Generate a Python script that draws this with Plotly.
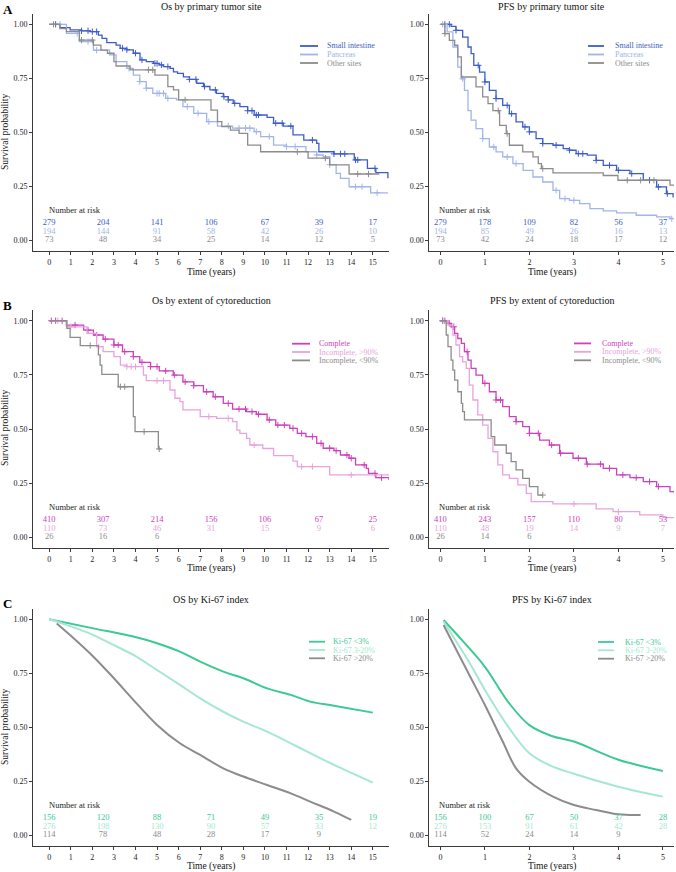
import numpy as np
import plotly.graph_objects as go

W, H = 676, 872
FONT = "Liberation Serif, Times New Roman, serif"

# ---------------- colours ----------------
C_SI, C_PANC, C_OTH = "#3d5dc6", "#a2b4ea", "#8c8c8c"
C_COMP, C_INC90, C_INCLT = "#cc42bb", "#e8a3dd", "#8c8c8c"
C_KLOW, C_KMID, C_KHIGH = "#3cc994", "#a5e8d0", "#8c8c8c"

# ---------------- A: primary tumor site ----------------
site_names = ["Small intestine", "Pancreas", "Other sites"]

os_si_t = [0, 0.5, 0.97, 1.5, 1.9, 2.28, 2.45, 2.67, 3.1, 3.29, 3.6, 3.9, 4.21, 4.5, 4.83, 5.1, 5.29, 5.6, 5.76, 5.95,
           6.22, 6.5, 6.84, 7.15, 7.45, 7.75, 8.07, 8.3, 8.53, 8.84, 9.2, 9.5, 10.1, 10.4, 10.85, 11.3, 11.8, 12.4,
           12.5, 13.2, 14.14, 14.75, 15.14, 15.7]
os_si_s = [1.0, 0.985, 0.974, 0.97, 0.966, 0.95, 0.935, 0.915, 0.904, 0.889, 0.882, 0.866, 0.835, 0.827, 0.819,
           0.812, 0.804, 0.796, 0.78, 0.773, 0.757, 0.745, 0.727, 0.712, 0.696, 0.68, 0.665, 0.65, 0.634, 0.619, 0.6,
           0.58, 0.569, 0.542, 0.529, 0.488, 0.464, 0.449, 0.41, 0.40, 0.372, 0.333, 0.313, 0.287]
os_si_c = [0.3, 1.5, 1.8, 2.0, 2.2, 3.4, 3.6, 4.0, 4.3, 4.9, 5.0, 5.2, 5.5, 6.5, 6.8, 7.2, 7.7, 8.1, 8.3, 8.6, 9.2,
           9.4, 9.6, 9.7, 10.5, 10.8, 11.2, 12.2, 13.2, 13.5, 13.7, 14.2, 14.3, 15.1]

os_pa_t = [0, 0.8, 1.4, 2.05, 2.8, 3.1, 3.6, 3.9, 4.2, 4.5, 4.8, 5.4, 5.9, 6.2, 6.7, 7.3, 7.8, 8.5, 9.5, 9.8,
           10.4, 11.0, 11.9, 12.4, 12.7, 13.0, 13.3, 13.5, 13.9, 14.9, 15.7]
os_pa_s = [1.0, 0.958, 0.92, 0.88, 0.858, 0.827, 0.796, 0.765, 0.735, 0.704, 0.68, 0.657, 0.65, 0.619, 0.588, 0.549,
           0.529, 0.519, 0.503, 0.48, 0.441, 0.434, 0.41, 0.395, 0.387, 0.35, 0.31, 0.287, 0.248, 0.22, 0.22]
os_pa_c = [0.5, 1.3, 1.8, 2.2, 3.7, 4.2, 4.5, 5.0, 5.1, 5.3, 5.5, 6.4, 6.9, 7.4, 8.3, 8.8, 9.1, 9.3, 9.6, 10.2,
           11.0, 11.4, 12.4, 13.0, 14.2, 14.5, 15.2]

os_ot_t = [0, 0.5, 0.8, 1.4, 2.05, 2.4, 2.7, 3.0, 3.1, 3.75, 4.9, 5.5, 5.76, 6.0, 7.5, 7.8, 8.0, 8.4, 8.8, 9.2,
           9.8, 12.0, 13.0, 13.9, 15.3]
os_ot_s = [1.0, 0.98, 0.966, 0.927, 0.904, 0.88, 0.866, 0.827, 0.807, 0.789, 0.765, 0.711, 0.696, 0.65, 0.603, 0.549,
           0.526, 0.51, 0.495, 0.441, 0.41, 0.38, 0.349, 0.307, 0.307]
os_ot_c = [0.2, 1.5, 2.0, 4.6, 4.8, 6.3, 11.5, 12.8, 14.3, 14.8]

pfs_si_t = [0, 0.24, 0.35, 0.5, 0.62, 0.69, 0.75, 0.88, 1.0, 1.1, 1.25, 1.4, 1.55, 1.7, 1.85, 2.0, 2.15, 2.3, 2.53,
            2.76, 2.9, 3.05, 3.3, 3.5, 3.66, 3.96, 4.26, 4.56, 4.86, 5.08, 5.23]
pfs_si_s = [1.0, 0.99, 0.972, 0.941, 0.895, 0.864, 0.81, 0.779, 0.733, 0.694, 0.656, 0.625, 0.586, 0.548, 0.525,
            0.502, 0.471, 0.448, 0.44, 0.424, 0.417, 0.401, 0.394, 0.37, 0.347, 0.324, 0.309, 0.278, 0.247, 0.216, 0.198]
pfs_si_c = [0.1, 0.2, 0.35, 0.85, 1.0, 1.25, 1.5, 1.6, 1.9, 2.0, 2.3, 2.6, 2.9, 3.1, 3.2, 3.5, 3.8, 4.0, 4.3, 4.7,
            4.9, 5.1]

pfs_pa_t = [0, 0.15, 0.28, 0.39, 0.47, 0.54, 0.62, 0.69, 0.8, 0.95, 1.1, 1.25, 1.4, 1.63, 1.86, 2.08, 2.3, 2.53,
            2.68, 2.9, 3.13, 3.36, 3.66, 3.96, 4.4, 4.86, 5.16, 5.25]
pfs_pa_s = [1.0, 0.965, 0.895, 0.802, 0.748, 0.694, 0.60, 0.556, 0.517, 0.471, 0.432, 0.409, 0.386, 0.355, 0.324,
            0.293, 0.27, 0.231, 0.193, 0.185, 0.17, 0.147, 0.136, 0.127, 0.116, 0.108, 0.10, 0.10]
pfs_pa_c = [0.05, 0.5, 0.95, 1.2, 1.5, 1.7, 2.6, 2.8, 3.0, 5.2]

pfs_ot_t = [0, 0.1, 0.2, 0.32, 0.39, 0.47, 0.8, 0.95, 1.07, 1.18, 1.33, 1.48, 1.55, 1.85, 2.08, 2.2, 2.27, 2.53,
            3.66, 3.99, 5.16, 5.25]
pfs_ot_s = [1.0, 0.957, 0.926, 0.903, 0.849, 0.756, 0.71, 0.664, 0.633, 0.60, 0.532, 0.494, 0.44, 0.409, 0.386,
            0.355, 0.332, 0.312, 0.30, 0.278, 0.255, 0.255]
pfs_ot_c = [0.1, 1.3, 1.5, 2.3, 4.2, 4.5, 4.8]

# ---------------- B: extent of cytoreduction ----------------
cyto_names = ["Complete", "Incomplete, >90%", "Incomplete, <90%"]

os_co_t = [0, 0.8, 1.6, 2.05, 2.5, 3.0, 3.4, 3.9, 4.2, 4.7, 5.1, 5.75, 6.2, 6.7, 7.15, 7.6, 8.07, 8.5, 9.15, 9.6,
           10.1, 10.5, 11.15, 11.5, 11.9, 12.4, 12.7, 13.2, 13.5, 13.9, 14.2, 14.7, 14.8, 15.14, 15.75]
os_co_s = [1.0, 0.98, 0.957, 0.934, 0.915, 0.888, 0.857, 0.834, 0.808, 0.788, 0.768, 0.749, 0.718, 0.70, 0.672, 0.649,
           0.618, 0.592, 0.58, 0.568, 0.542, 0.518, 0.503, 0.48, 0.465, 0.434, 0.411, 0.40, 0.38, 0.365, 0.334, 0.318,
           0.295, 0.275, 0.265]
os_co_c = [0.1, 0.3, 0.6, 1.2, 1.8, 2.2, 2.6, 3.0, 3.2, 3.5, 3.9, 4.3, 4.7, 5.0, 5.4, 5.8, 6.3, 6.7, 7.3, 7.7, 8.3,
           8.8, 9.1, 9.4, 9.7, 10.2, 10.6, 10.9, 11.3, 11.7, 12.2, 12.6, 13.0, 13.3, 13.8, 14.0, 14.6, 15.1, 15.4]

os_i9_t = [0, 0.8, 1.75, 2.2, 2.5, 3.0, 3.3, 3.6, 4.37, 4.5, 5.6, 5.83, 6.06, 6.2, 7.0, 7.76, 8.5, 8.7, 8.84, 9.15,
           9.3, 9.9, 10.4, 11.3, 11.5, 13.0, 15.75]
os_i9_s = [1.0, 0.972, 0.942, 0.88, 0.857, 0.834, 0.795, 0.788, 0.749, 0.723, 0.68, 0.642, 0.626, 0.588, 0.557, 0.549,
           0.534, 0.495, 0.48, 0.457, 0.426, 0.41, 0.377, 0.352, 0.326, 0.288, 0.288]
os_i9_c = [0.4, 1.0, 2.3, 3.6, 3.8, 4.0, 5.0, 5.3, 7.4, 8.3, 9.5, 11.7, 12.2, 14.0]

os_il_t = [0, 0.82, 0.97, 1.44, 2.28, 2.36, 2.44, 3.2, 3.9, 3.98, 5.06, 5.2]
os_il_s = [1.0, 0.965, 0.923, 0.885, 0.842, 0.795, 0.752, 0.695, 0.557, 0.488, 0.408, 0.408]
os_il_c = [1.9, 3.3, 3.5, 4.4, 5.1]

pfs_co_t = [0, 0.17, 0.24, 0.32, 0.39, 0.47, 0.54, 0.62, 0.69, 0.8, 0.95, 1.1, 1.25, 1.4, 1.55, 1.7, 1.85, 2.0, 2.23,
            2.45, 2.68, 2.98, 3.28, 3.66, 3.96, 4.26, 4.56, 4.86, 5.16, 5.26]
pfs_co_s = [1.0, 0.988, 0.972, 0.942, 0.918, 0.895, 0.857, 0.818, 0.78, 0.749, 0.711, 0.672, 0.634, 0.603, 0.557,
            0.534, 0.511, 0.48, 0.449, 0.426, 0.388, 0.365, 0.338, 0.318, 0.288, 0.275, 0.257, 0.234, 0.211, 0.2]
pfs_co_c = [0.05, 0.1, 0.2, 0.3, 0.6, 1.0, 1.25, 1.35, 1.7, 2.0, 2.2, 2.5, 2.7, 3.1, 3.3, 3.6, 3.8, 4.1, 4.4, 4.7, 4.9]

pfs_i9_t = [0, 0.17, 0.28, 0.35, 0.43, 0.5, 0.58, 0.65, 0.73, 0.84, 0.95, 1.07, 1.18, 1.29, 1.4, 1.55, 1.74, 1.93,
            2.04, 2.53, 3.5, 3.88, 4.48, 5.0, 5.26]
pfs_i9_s = [1.0, 0.98, 0.934, 0.888, 0.834, 0.81, 0.78, 0.703, 0.634, 0.565, 0.518, 0.457, 0.395, 0.334, 0.288,
            0.272, 0.242, 0.203, 0.165, 0.154, 0.131, 0.118, 0.103, 0.091, 0.091]
pfs_i9_c = [0.05, 3.0, 4.0]

pfs_il_t = [0, 0.13, 0.17, 0.24, 0.28, 0.32, 0.39, 0.47, 0.5, 0.54, 1.14, 1.22, 1.48, 1.59, 1.7, 1.85, 2.0, 2.19, 2.3]
pfs_il_s = [1.0, 0.934, 0.88, 0.818, 0.772, 0.726, 0.672, 0.618, 0.58, 0.542, 0.465, 0.426, 0.388, 0.349, 0.311,
            0.272, 0.234, 0.195, 0.195]
pfs_il_c = [0.05, 2.3]

# ---------------- C: Ki-67 index (smoothed) ----------------
ki_names = ["Ki-67 <3%", "Ki-67 3-20%", "Ki-67 >20%"]

os_kl_t = [0, 2.05, 3.9, 5.0, 6.06, 7.0, 8.07, 9.0, 10.1, 11.2, 12.1, 13.2, 15.0]
os_kl_s = [1.0, 0.958, 0.92, 0.889, 0.85, 0.804, 0.758, 0.727, 0.68, 0.65, 0.619, 0.60, 0.568]
os_km_t = [0, 0.8, 2.05, 3.0, 3.9, 5.0, 6.06, 7.0, 8.07, 9.0, 10.1, 11.2, 12.1, 13.2, 15.0]
os_km_s = [1.0, 0.974, 0.927, 0.88, 0.835, 0.765, 0.696, 0.634, 0.572, 0.526, 0.48, 0.426, 0.38, 0.326, 0.244]
os_kh_t = [0.35, 0.97, 2.05, 3.0, 3.9, 5.0, 6.06, 7.0, 8.07, 9.0, 10.1, 11.2, 12.1, 13.2, 14.0]
os_kh_s = [0.981, 0.927, 0.827, 0.727, 0.627, 0.511, 0.426, 0.372, 0.31, 0.272, 0.233, 0.194, 0.156, 0.11, 0.071]

pfs_kl_t = [0.07, 0.5, 1.0, 1.55, 2.0, 2.5, 3.0, 4.0, 5.0]
pfs_kl_s = [0.997, 0.9, 0.78, 0.61, 0.51, 0.46, 0.434, 0.35, 0.298]
pfs_km_t = [0.07, 0.65, 1.0, 1.55, 2.0, 2.5, 3.0, 4.0, 5.0]
pfs_km_s = [0.99, 0.80, 0.673, 0.495, 0.38, 0.32, 0.285, 0.225, 0.179]
pfs_kh_t = [0.07, 0.65, 1.0, 1.4, 1.7, 2.0, 2.53, 3.0, 3.5, 4.0, 4.5]
pfs_kh_s = [0.974, 0.742, 0.603, 0.434, 0.31, 0.248, 0.179, 0.14, 0.117, 0.097, 0.094]

# ---------------- numbers at risk ----------------
risk_t_long = [0, 2.5, 5, 7.5, 10, 12.5, 15]
risk_t_short = [0, 1, 2, 3, 4, 5]

risk_os_site = [[279, 204, 141, 106, 67, 39, 17], [194, 144, 91, 58, 42, 26, 10], [73, 48, 34, 25, 14, 12, 5]]
risk_pfs_site = [[279, 178, 109, 82, 56, 37], [194, 85, 49, 26, 16, 13], [73, 42, 24, 18, 17, 12]]
risk_os_cyto = [[410, 307, 214, 156, 106, 67, 25], [110, 73, 46, 31, 15, 9, 6], [26, 16, 6]]
risk_pfs_cyto = [[410, 243, 157, 110, 80, 53], [110, 48, 19, 14, 9, 7], [26, 14, 6]]
risk_os_ki = [[156, 120, 88, 71, 49, 35, 19], [276, 198, 130, 90, 57, 33, 12], [114, 78, 48, 28, 17, 9]]
risk_pfs_ki = [[156, 100, 67, 50, 37, 28], [276, 153, 91, 61, 42, 28], [114, 52, 24, 14, 9]]

# ---------------- layout geometry (pixels) ----------------
def fx(px):
    return px / W


def fy(py):
    return 1 - py / H


LEFT_X = [fx(33), fx(389)]
RIGHT_X = [fx(429.3), fx(674)]
ROW_Y = {"A": [fy(251.1), fy(13.5)], "B": [fy(548.1), fy(309.9)], "C": [fy(846.1), fy(608.5)]}

panels = [
    dict(n=1, row="A", side="L", title="Os by primary tumor site", kind="km",
         names=site_names, colors=[C_SI, C_PANC, C_OTH],
         curves=[(os_si_t, os_si_s, os_si_c), (os_pa_t, os_pa_s, os_pa_c), (os_ot_t, os_ot_s, os_ot_c)],
         risk=risk_os_site, leg=(300, 318, 325, [46, 54.5, 63])),
    dict(n=2, row="A", side="R", title="PFS by primary tumor site", kind="km",
         names=site_names, colors=[C_SI, C_PANC, C_OTH],
         curves=[(pfs_si_t, pfs_si_s, pfs_si_c), (pfs_pa_t, pfs_pa_s, pfs_pa_c), (pfs_ot_t, pfs_ot_s, pfs_ot_c)],
         risk=risk_pfs_site, leg=(588, 604, 613, [46, 54.5, 63])),
    dict(n=3, row="B", side="L", title="Os by extent of cytoreduction", kind="km",
         names=cyto_names, colors=[C_COMP, C_INC90, C_INCLT],
         curves=[(os_co_t, os_co_s, os_co_c), (os_i9_t, os_i9_s, os_i9_c), (os_il_t, os_il_s, os_il_c)],
         risk=risk_os_cyto, leg=(292, 310, 317, [343.7, 352, 360.4])),
    dict(n=4, row="B", side="R", title="PFS by extent of cytoreduction", kind="km",
         names=cyto_names, colors=[C_COMP, C_INC90, C_INCLT],
         curves=[(pfs_co_t, pfs_co_s, pfs_co_c), (pfs_i9_t, pfs_i9_s, pfs_i9_c), (pfs_il_t, pfs_il_s, pfs_il_c)],
         risk=risk_pfs_cyto, leg=(574, 591, 600, [343.4, 351.8, 360.3])),
    dict(n=5, row="C", side="L", title="OS by Ki-67 index", kind="smooth",
         names=ki_names, colors=[C_KLOW, C_KMID, C_KHIGH],
         curves=[(os_kl_t, os_kl_s, None), (os_km_t, os_km_s, None), (os_kh_t, os_kh_s, None)],
         risk=risk_os_ki, leg=(309, 325, 331, [641.7, 650, 658.3])),
    dict(n=6, row="C", side="R", title="PFS by Ki-67 index", kind="smooth",
         names=ki_names, colors=[C_KLOW, C_KMID, C_KHIGH],
         curves=[(pfs_kl_t, pfs_kl_s, None), (pfs_km_t, pfs_km_s, None), (pfs_kh_t, pfs_kh_s, None)],
         risk=risk_pfs_ki, leg=(598, 614, 623, [642, 650.3, 658.7])),
]

ROW_TITLE_Y = {"A": 6, "B": 300, "C": 599}
ROW_XTITLE_Y = {"A": 272, "B": 568, "C": 866}
ROW_YTITLE_Y = {"A": 132, "B": 428, "C": 727}
ROW_LETTER_Y = {"A": 10, "B": 305, "C": 603}
AXCOL = "#3a3a3a"

fig = go.Figure()
annotations = []
shapes = []


def step_value(t, s, x):
    idx = np.searchsorted(np.asarray(t), x, side="right") - 1
    return np.asarray(s)[np.clip(idx, 0, len(s) - 1)]


for p in panels:
    n = p["n"]
    xa = "x" if n == 1 else f"x{n}"
    ya = "y" if n == 1 else f"y{n}"
    long = p["side"] == "L"
    for name, col, (t, s, c) in zip(p["names"], p["colors"], p["curves"]):
        if p["kind"] == "km":
            fig.add_trace(go.Scatter(x=t, y=s, mode="lines", line=dict(color=col, width=1.3, shape="hv"),
                                     xaxis=xa, yaxis=ya, showlegend=False, hoverinfo="skip"))
            cy = step_value(t, s, c)
            fig.add_trace(go.Scatter(x=c, y=cy, mode="markers",
                                     marker=dict(symbol="cross-thin", size=4.5, line=dict(color=col, width=1)),
                                     xaxis=xa, yaxis=ya, showlegend=False, hoverinfo="skip"))
        else:
            fig.add_trace(go.Scatter(x=t, y=s, mode="lines",
                                     line=dict(color=col, width=2, shape="spline", smoothing=1.0),
                                     xaxis=xa, yaxis=ya, showlegend=False, hoverinfo="skip"))
    # numbers at risk
    rt = risk_t_long if long else risk_t_short
    for row_i, (vals, col) in enumerate(zip(p["risk"], p["colors"])):
        yv = [0.08, 0.04, 0.0][row_i]
        fig.add_trace(go.Scatter(x=rt[:len(vals)], y=[yv] * len(vals), mode="text",
                                 text=[str(v) for v in vals], textposition="middle center",
                                 textfont=dict(family=FONT, size=8.5, color=col),
                                 xaxis=xa, yaxis=ya, showlegend=False, hoverinfo="skip"))
    annotations.append(dict(x=-0.09 if long else -0.075, y=0.14, xref=xa, yref=ya, text="Number at risk",
                            showarrow=False, xanchor="left", yanchor="middle",
                            font=dict(family=FONT, size=8.5, color="#222")))
    # axes
    xdom = LEFT_X if long else RIGHT_X
    fig.layout[f"xaxis{'' if n == 1 else n}"] = dict(
        domain=xdom, range=[-0.75, 15.75] if long else [-0.25, 5.25], anchor=ya,
        tickvals=list(range(16)) if long else list(range(6)), ticks="outside", ticklen=3, tickcolor=AXCOL,
        showline=True, linecolor=AXCOL, linewidth=1, showgrid=False, zeroline=False,
        tickfont=dict(family=FONT, size=8, color="#222"), fixedrange=True)
    fig.layout[f"yaxis{'' if n == 1 else n}"] = dict(
        domain=ROW_Y[p["row"]], range=[-0.05, 1.05], anchor=xa,
        tickvals=[0, 0.25, 0.5, 0.75, 1.0], ticktext=["0.00", "0.25", "0.50", "0.75", "1.00"],
        ticks="outside", ticklen=3, tickcolor=AXCOL, showline=True, linecolor=AXCOL, linewidth=1,
        showgrid=False, zeroline=False, tickfont=dict(family=FONT, size=8, color="#222"), fixedrange=True)
    # titles
    cx = (389 + 33) / 2 if long else (429.3 + 674) / 2
    annotations.append(dict(x=fx(cx), y=fy(ROW_TITLE_Y[p["row"]]), xref="paper", yref="paper", text=p["title"],
                            showarrow=False, xanchor="center", yanchor="middle",
                            font=dict(family=FONT, size=10, color="#111")))
    annotations.append(dict(x=fx(cx), y=fy(ROW_XTITLE_Y[p["row"]]), xref="paper", yref="paper",
                            text="Time (years)", showarrow=False, xanchor="center", yanchor="middle",
                            font=dict(family=FONT, size=9.5, color="#111")))
    if long:
        annotations.append(dict(x=fx(5), y=fy(ROW_YTITLE_Y[p["row"]]), xref="paper", yref="paper",
                                text="Survival probability", showarrow=False, textangle=-90,
                                xanchor="center", yanchor="middle", font=dict(family=FONT, size=9.5, color="#111")))
        annotations.append(dict(x=fx(1), y=fy(ROW_LETTER_Y[p["row"]]), xref="paper", yref="paper",
                                text=f"<b>{p['row']}</b>", showarrow=False, xanchor="left", yanchor="middle",
                                font=dict(family=FONT, size=13, color="#000")))
    # legend (drawn manually)
    l0, l1, tx, ys = p["leg"]
    for name, col, yy in zip(p["names"], p["colors"], ys):
        shapes.append(dict(type="line", xref="paper", yref="paper", x0=fx(l0), x1=fx(l1), y0=fy(yy), y1=fy(yy),
                           line=dict(color=col, width=1.8)))
        annotations.append(dict(x=fx(tx), y=fy(yy), xref="paper", yref="paper", text=name, showarrow=False,
                                xanchor="left", yanchor="middle", font=dict(family=FONT, size=8, color=col)))

fig.update_layout(width=W, height=H, margin=dict(l=0, r=0, t=0, b=0), paper_bgcolor="white",
                  plot_bgcolor="white", showlegend=False, annotations=annotations, shapes=shapes,
                  font=dict(family=FONT))
fig.write_html("out.html", config={"displayModeBar": False},
               post_script="document.body.style.margin='0';document.body.style.overflow='hidden';")
